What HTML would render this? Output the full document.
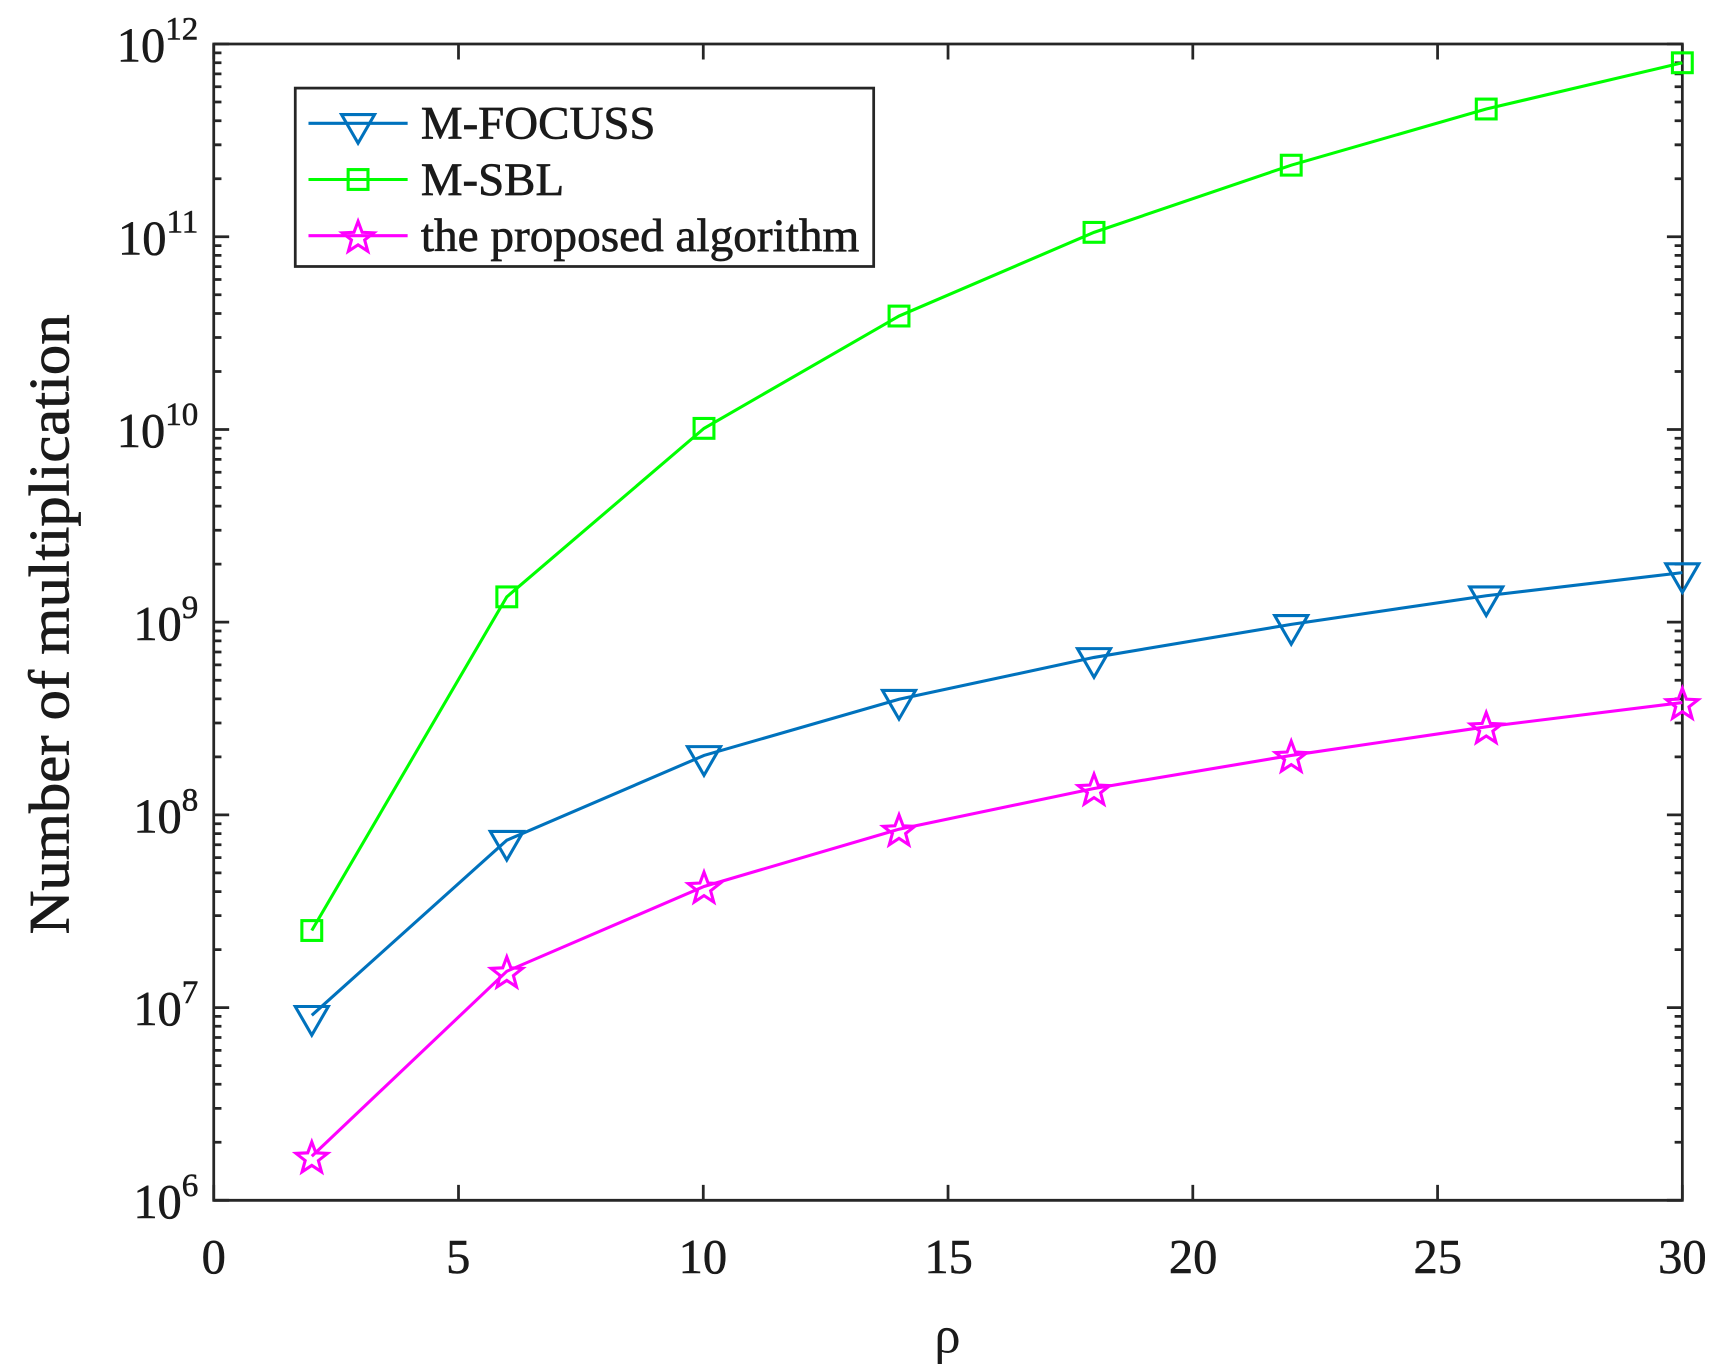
<!DOCTYPE html>
<html><head><meta charset="utf-8"><style>html,body{margin:0;padding:0;background:#fff}svg{display:block}</style></head>
<body>
<svg width="1722" height="1371" viewBox="0 0 1563 1245" preserveAspectRatio="none" xmlns="http://www.w3.org/2000/svg" font-family="Liberation Serif, serif" fill="#1a1a1a">
<rect width="1563" height="1245" fill="#fff"/>
<g stroke="#262626" stroke-width="2.5" fill="none">
<path d="M194,40H1527V1090H194Z"/>
</g>
<g id="tk" stroke="#262626" stroke-width="2.5"></g>
<g fill="none" stroke-width="2.8">
<polyline stroke="#00ff00" points="283,845 460,542 639,389 816,287 993,211 1172,150 1349,99 1527,57"/>
<polyline stroke="#0072bd" points="283,922 460,763 639,686 816,635 993,597 1172,567 1349,541 1527,520"/>
<polyline stroke="#ff00ff" points="283,1050 460,882 639,805 816,753 993,716 1172,686 1349,660 1527,638"/>
</g>
<g fill="none" stroke="#00ff00" stroke-width="2.8">
<rect x="274" y="836" width="18" height="18"/><rect x="451" y="533" width="18" height="18"/><rect x="630" y="380" width="18" height="18"/><rect x="807" y="278" width="18" height="18"/><rect x="984" y="202" width="18" height="18"/><rect x="1163" y="141" width="18" height="18"/><rect x="1340" y="90" width="18" height="18"/><rect x="1518" y="48" width="18" height="18"/>
</g>
<g fill="none" stroke="#0072bd" stroke-width="2.8" id="tri"></g>
<g fill="none" stroke="#ff00ff" stroke-width="2.8" id="star"></g>
<rect x="268" y="80" width="525" height="162" fill="#fff" stroke="#262626" stroke-width="2.5"/>
<line x1="280" y1="112" x2="370" y2="112" stroke="#0072bd" stroke-width="2.8"/>
<path d="M310,104H340L325,130Z" fill="none" stroke="#0072bd" stroke-width="2.8"/>
<line x1="280" y1="163" x2="370" y2="163" stroke="#00ff00" stroke-width="2.8"/>
<rect x="316" y="154" width="18" height="18" fill="none" stroke="#00ff00" stroke-width="2.8"/>
<line x1="280" y1="214" x2="370" y2="214" stroke="#ff00ff" stroke-width="2.8"/>
<path id="legstar" fill="none" stroke="#ff00ff" stroke-width="2.8" d=""/>
<g font-size="42" stroke="#1a1a1a" stroke-width="0.6">
<text x="382" y="126" textLength="213" lengthAdjust="spacingAndGlyphs">M-FOCUSS</text>
<text x="382" y="177" textLength="130" lengthAdjust="spacingAndGlyphs">M-SBL</text>
<text x="382" y="228" textLength="398" lengthAdjust="spacingAndGlyphs">the proposed algorithm</text>
</g>
<g font-size="44" text-anchor="middle" stroke="#1a1a1a" stroke-width="0.5">
<text x="194" y="1156">0</text><text x="416" y="1156">5</text><text x="638" y="1156">10</text><text x="861" y="1156">15</text><text x="1083" y="1156">20</text><text x="1305" y="1156">25</text><text x="1527" y="1156">30</text>
</g>
<g id="ylab" font-size="44" stroke="#1a1a1a" stroke-width="0.5"></g>
<text x="860" y="1228" font-size="48" text-anchor="middle">ρ</text>
<text transform="translate(62,567) rotate(-90)" font-size="52" text-anchor="middle" stroke="#1a1a1a" stroke-width="0.7" textLength="563" lengthAdjust="spacingAndGlyphs">Number of multiplication</text>
<script>
(function(){
var ns="http://www.w3.org/2000/svg";
function el(p,t,a){var e=document.createElementNS(ns,t);for(var k in a)e.setAttribute(k,a[k]);p.appendChild(e);return e;}
var tk=document.getElementById('tk');
var d="";
for(var i=0;i<=6;i++){var x=194+i*1333/6;d+="M"+x+",1090v-14M"+x+",40v14";}
for(var e=0;e<6;e++){for(var m=1;m<10;m++){var y=1090-(e+Math.log10(m))*175;var L=m==1?14:7;d+="M194,"+y+"h"+L+"M1527,"+y+"h-"+L;}}
d+="M194,40h14M1527,40h-14";
el(tk,'path',{d:d,fill:'none'});
var yl=document.getElementById('ylab');
for(var e=0;e<=6;e++){var y=1090-e*175;var t=el(yl,'text',{x:180,y:y+16,'text-anchor':'end'});
var a=document.createElementNS(ns,'tspan');a.textContent='10';t.appendChild(a);
var b=document.createElementNS(ns,'tspan');b.setAttribute('dy','-20');b.setAttribute('font-size','30');b.textContent=String(6+e);t.appendChild(b);}
var tri=document.getElementById('tri');
[[283,922],[460,763],[639,686],[816,635],[993,597],[1172,567],[1349,541],[1527,520]].forEach(function(p){
el(tri,'path',{d:"M"+(p[0]-15)+","+(p[1]-8)+"H"+(p[0]+15)+"L"+p[0]+","+(p[1]+18)+"Z"});});
function star(cx,cy,R){var r=R*0.42,s="";for(var i=0;i<10;i++){var a=-Math.PI/2+i*Math.PI/5;var rr=i%2?r:R;s+=(i?"L":"M")+(cx+rr*Math.cos(a)).toFixed(1)+","+(cy+rr*Math.sin(a)).toFixed(1);}return s+"Z";}
var st=document.getElementById('star');
[[283,1050],[460,882],[639,805],[816,753],[993,716],[1172,686],[1349,660],[1527,638]].forEach(function(p){el(st,'path',{d:star(p[0],p[1]+2,15)});});
document.getElementById('legstar').setAttribute('d',star(325,216,15));
})();
</script>
</svg>
</body></html>
